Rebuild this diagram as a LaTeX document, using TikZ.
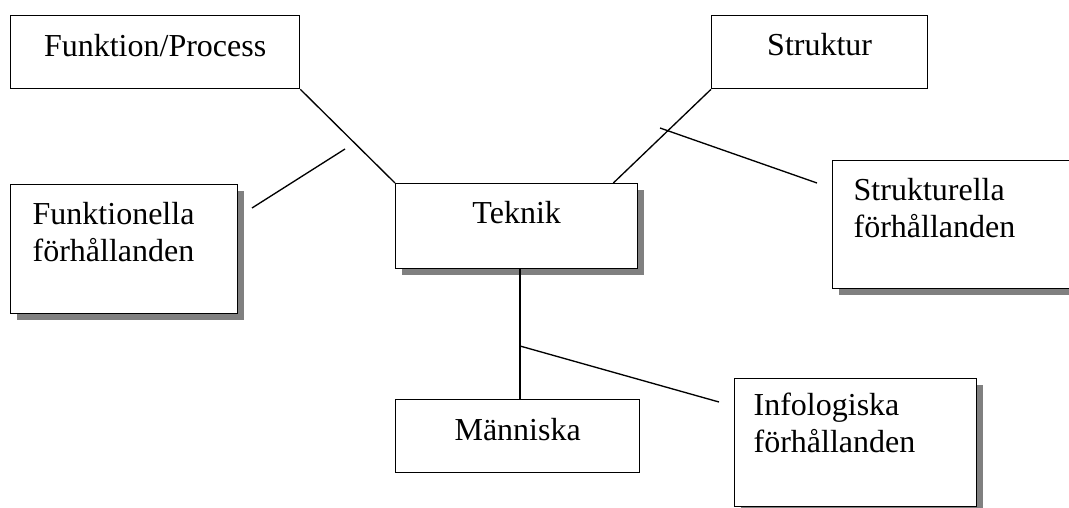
\documentclass[tikz,border=0pt]{standalone}
\usepackage{fontspec}
\setmainfont{Liberation Serif}
\usetikzlibrary{shadows}

\begin{document}
\begin{tikzpicture}[x=0.75pt, y=-0.75pt, line width=1pt,
  box/.style={rectangle, draw, fill=white, inner sep=0pt, anchor=north west, font=\fontsize{24}{27.75}\selectfont},
  shadowbox/.style={box, drop shadow={shadow xshift=5pt, shadow yshift=-5pt, fill=black!50, opacity=1}}]
	\clip (0,0) rectangle (1069,507);
	\node[box, minimum width=216.75pt, text height=30.75pt, text depth=24pt] (funk) at (10,15) {Funktion/Process};
	\node[box, minimum width=162pt, text height=30pt, text depth=24.75pt] (strukt) at (711,15) {Struktur};
	\node[shadowbox, minimum width=181.5pt, text height=30pt, text depth=33.75pt] (teknik) at (395,183) {Teknik};
	\node[shadowbox, text width=137.25pt, inner xsep=16.5pt, align=left, text height=30pt, text depth=66.75pt] (funkfh) at (10,184) {Funktionella\\förhållanden};
	\node[shadowbox, text width=159.75pt, inner xsep=15.75pt, align=left, text height=30pt, text depth=66pt] (struktfh) at (832,160) {Strukturella\\förhållanden};
	\node[box, minimum width=183pt, text height=30.75pt, text depth=24pt] (manniska) at (395,399) {Människa};
	\node[shadowbox, text width=153pt, inner xsep=14.25pt, align=left, text height=27.75pt, text depth=68.25pt] (infofh) at (734,378) {Infologiska\\förhållanden};
	% free ends of the relation lines
	\coordinate (fA) at (345,149);
	\coordinate (fB) at (252,208);
	\coordinate (sA) at (660,128);
	\coordinate (sB) at (817,183);
	\coordinate (iA) at (520,346);
	\coordinate (iB) at (719,402);
	\draw (funk.south east) -- (teknik.north west);
	\draw (strukt.south west) -- ([xshift=-18.75pt]teknik.north east);
	\draw (iA |- teknik.south) -- (iA |- manniska.north);
	\draw (fA) -- (fB);
	\draw (sA) -- (sB);
	\draw (iA) -- (iB);
\end{tikzpicture}
\end{document}
